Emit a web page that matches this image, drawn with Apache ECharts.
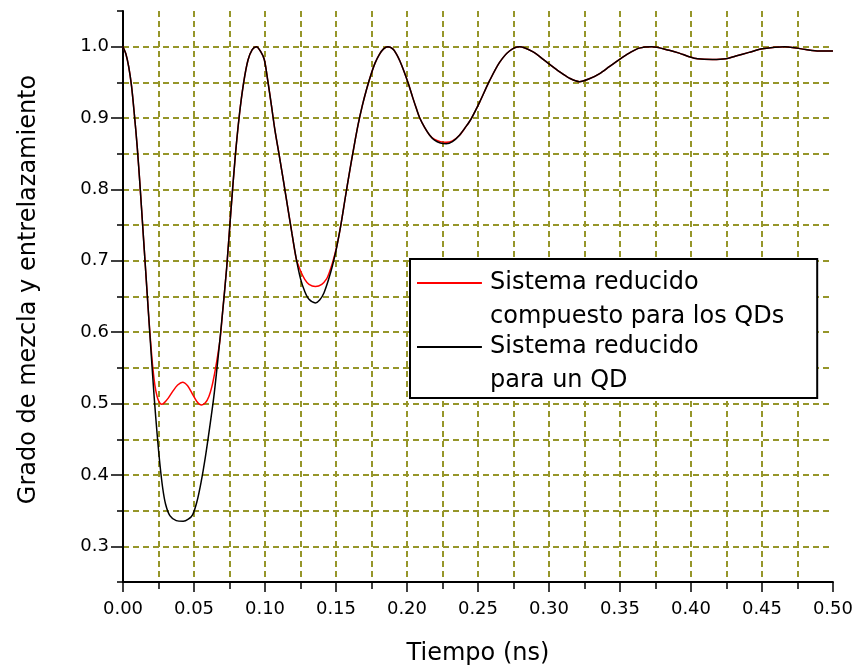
<!DOCTYPE html>
<html>
<head>
<meta charset="utf-8">
<script src="https://cdn.jsdelivr.net/npm/echarts@6/dist/echarts.min.js"></script>
<style>
html,body{margin:0;padding:0;background:#ffffff;}
#chart{width:856px;height:671px;}
</style>
</head>
<body>
<div id="chart"></div>
<script>
// ---- Data ----
const xAxisTitle = 'Tiempo (ns)';
const yAxisTitle = 'Grado de mezcla y entrelazamiento';
const seriesNames = ['Sistema reducido\ncompuesto para los QDs', 'Sistema reducido\npara un QD'];

// "Sistema reducido para un QD" (black)
const timeOneQD = [0, 0.002, 0.004, 0.006, 0.008, 0.010, 0.012, 0.014, 0.016, 0.018, 0.020, 0.022, 0.024, 0.026, 0.028, 0.030, 0.033, 0.0375, 0.0424, 0.046, 0.049, 0.052, 0.055, 0.058, 0.061, 0.064, 0.067, 0.070, 0.073, 0.076, 0.079, 0.082, 0.085, 0.088, 0.091, 0.094, 0.097, 0.0995, 0.102, 0.1045, 0.107, 0.110, 0.113, 0.116, 0.119, 0.122, 0.125, 0.128, 0.131, 0.1355, 0.1385, 0.1415, 0.1445, 0.1475, 0.1505, 0.1535, 0.1565, 0.1595, 0.1625, 0.1655, 0.1685, 0.1715, 0.1745, 0.1775, 0.1805, 0.1835, 0.1866, 0.190, 0.1925, 0.195, 0.198, 0.201, 0.204, 0.2065, 0.209, 0.2124, 0.216, 0.2194, 0.2235, 0.2276, 0.232, 0.237, 0.2415, 0.2452, 0.2511, 0.2581, 0.2652, 0.2722, 0.2792, 0.2885, 0.298, 0.3073, 0.3143, 0.3214, 0.3284, 0.3354, 0.3425, 0.3495, 0.3565, 0.3636, 0.3724, 0.3847, 0.3917, 0.3987, 0.4046, 0.4151, 0.4245, 0.4316, 0.4409, 0.4503, 0.4662, 0.4808, 0.4902, 0.5];
const gradeOneQD = [1.0, 0.99, 0.972, 0.945, 0.905, 0.86, 0.805, 0.745, 0.685, 0.625, 0.565, 0.508, 0.458, 0.415, 0.381, 0.359, 0.343, 0.336, 0.335, 0.338, 0.344, 0.362, 0.39, 0.425, 0.466, 0.51, 0.565, 0.625, 0.69, 0.77, 0.845, 0.905, 0.95, 0.981, 0.996, 1.0, 0.993, 0.982, 0.952, 0.918, 0.883, 0.848, 0.812, 0.775, 0.738, 0.703, 0.675, 0.657, 0.646, 0.641, 0.645, 0.655, 0.672, 0.693, 0.719, 0.751, 0.788, 0.824, 0.858, 0.89, 0.917, 0.94, 0.96, 0.977, 0.989, 0.997, 1.0, 0.997, 0.99, 0.98, 0.965, 0.948, 0.929, 0.914, 0.90, 0.887, 0.876, 0.869, 0.865, 0.864, 0.867, 0.876, 0.888, 0.899, 0.922, 0.952, 0.978, 0.994, 1.0, 0.993, 0.979, 0.965, 0.956, 0.951, 0.955, 0.962, 0.972, 0.982, 0.991, 0.998, 1.0, 0.995, 0.991, 0.986, 0.983, 0.982, 0.983, 0.987, 0.992, 0.997, 1.0, 0.996, 0.994, 0.994];

// "Sistema reducido compuesto para los QDs" (red)
const timeComposite = [0, 0.002, 0.004, 0.006, 0.008, 0.010, 0.012, 0.014, 0.016, 0.018, 0.0195, 0.021, 0.0225, 0.024, 0.0255, 0.0272, 0.029, 0.032, 0.035, 0.0385, 0.042, 0.0455, 0.049, 0.052, 0.0553, 0.058, 0.0605, 0.0625, 0.0645, 0.0665, 0.0685, 0.070, 0.073, 0.076, 0.079, 0.082, 0.085, 0.088, 0.091, 0.094, 0.097, 0.0995, 0.102, 0.1045, 0.107, 0.110, 0.113, 0.116, 0.119, 0.122, 0.125, 0.128, 0.131, 0.1355, 0.140, 0.1435, 0.145, 0.1475, 0.1505, 0.1535, 0.1565, 0.1595, 0.1625, 0.1655, 0.1685, 0.1715, 0.1745, 0.1775, 0.1805, 0.1835, 0.1866, 0.190, 0.1925, 0.195, 0.198, 0.201, 0.204, 0.2065, 0.209, 0.2124, 0.216, 0.2194, 0.2235, 0.2276, 0.232, 0.237, 0.2415, 0.2452, 0.2511, 0.2581, 0.2652, 0.2722, 0.2792, 0.2885, 0.298, 0.3073, 0.3143, 0.3214, 0.3284, 0.3354, 0.3425, 0.3495, 0.3565, 0.3636, 0.3724, 0.3847, 0.3917, 0.3987, 0.4046, 0.4151, 0.4245, 0.4316, 0.4409, 0.4503, 0.4662, 0.4808, 0.4902, 0.5];
const gradeComposite = [1.0, 0.99, 0.972, 0.945, 0.905, 0.86, 0.805, 0.745, 0.685, 0.625, 0.585, 0.55, 0.525, 0.51, 0.502, 0.499, 0.501, 0.508, 0.517, 0.526, 0.530, 0.525, 0.513, 0.503, 0.498, 0.501, 0.51, 0.523, 0.542, 0.565, 0.592, 0.625, 0.69, 0.77, 0.845, 0.905, 0.95, 0.981, 0.996, 1.0, 0.993, 0.982, 0.952, 0.918, 0.883, 0.848, 0.812, 0.775, 0.738, 0.703, 0.686, 0.674, 0.667, 0.664, 0.667, 0.675, 0.682, 0.697, 0.72, 0.751, 0.788, 0.824, 0.858, 0.89, 0.917, 0.94, 0.96, 0.977, 0.989, 0.997, 1.0, 0.997, 0.99, 0.98, 0.965, 0.948, 0.929, 0.914, 0.90, 0.887, 0.876, 0.870, 0.867, 0.866, 0.868, 0.876, 0.888, 0.899, 0.922, 0.952, 0.978, 0.994, 1.0, 0.993, 0.979, 0.965, 0.956, 0.951, 0.955, 0.962, 0.972, 0.982, 0.991, 0.998, 1.0, 0.995, 0.991, 0.986, 0.983, 0.982, 0.983, 0.987, 0.992, 0.997, 1.0, 0.996, 0.994, 0.994];

// Axis ranges / tick steps
const xRange = [0, 0.5];
const xStep = 0.05;
const yRange = [0.25, 1.05];
const yMinorStep = 0.05;

// ---- Chart ----
const pair = (xs, ys) => xs.map((x, i) => [x, ys[i]]);
const gridColor = '#96962a';
const font = 'DejaVu Sans';
const legendIcon = 'path://M0,16H65V18H0Z M0,0H0.1V0.1H0Z M68,68H68.1V68.1H68Z';

const chart = echarts.init(document.getElementById('chart'), null, {renderer: 'canvas'});
chart.setOption({
  backgroundColor: '#ffffff',
  animation: false,
  grid: {left: 123, right: 22, top: 11, bottom: 88, containLabel: false},
  legend: {
    orient: 'vertical',
    left: 410,
    top: 259,
    padding: [7, 33, 0, 7],
    itemGap: -4,
    itemWidth: 68,
    itemHeight: 68,
    backgroundColor: '#ffffff',
    borderColor: '#000000',
    borderWidth: 2,
    selectedMode: false,
    textStyle: {fontFamily: font, fontSize: 24, lineHeight: 34, color: '#000000'},
    data: [
      {name: seriesNames[0], icon: legendIcon, itemStyle: {color: '#ff0000', borderWidth: 0}},
      {name: seriesNames[1], icon: legendIcon, itemStyle: {color: '#000000', borderWidth: 0}}
    ]
  },
  xAxis: {
    type: 'value',
    min: xRange[0],
    max: xRange[1],
    interval: xStep,
    name: xAxisTitle,
    nameLocation: 'middle',
    nameGap: 60,
    nameTextStyle: {fontFamily: font, fontSize: 24, color: '#000000'},
    axisLine: {show: true, lineStyle: {color: '#000000', width: 2}},
    axisTick: {show: true, length: 10, lineStyle: {color: '#000000', width: 1.5}},
    minorTick: {show: true, splitNumber: 2, length: 7, lineStyle: {color: '#000000', width: 1.5}},
    axisLabel: {margin: 18, fontFamily: font, fontSize: 18, color: '#000000', formatter: v => v.toFixed(2)},
    splitLine: {show: true, showMinLine: false, showMaxLine: false, lineStyle: {color: gridColor, width: 2, type: [6, 4]}},
    minorSplitLine: {show: true, lineStyle: {color: gridColor, width: 2, type: [6, 4]}}
  },
  yAxis: [
    {
      type: 'value',
      position: 'left',
      min: yRange[0],
      max: yRange[1],
      interval: yMinorStep,
      name: yAxisTitle,
      nameLocation: 'middle',
      nameGap: 82,
      nameTextStyle: {fontFamily: font, fontSize: 24, color: '#000000', padding: [0, 0, 0, 14]},
      axisLine: {show: true, lineStyle: {color: '#000000', width: 2}},
      axisTick: {show: true, length: 6, lineStyle: {color: '#000000', width: 1.5}},
      axisLabel: {show: false},
      splitLine: {show: true, showMinLine: false, showMaxLine: false, lineStyle: {color: gridColor, width: 2, type: [6, 4]}}
    },
    {
      type: 'value',
      position: 'left',
      offset: 0,
      min: yRange[0],
      max: yRange[1],
      splitNumber: 8,
      axisLine: {show: false},
      axisTick: {show: true, length: 12, lineStyle: {color: '#000000', width: 1.5}},
      axisLabel: {show: true, showMinLabel: false, showMaxLabel: false, margin: 14, fontFamily: font, fontSize: 18, color: '#000000', formatter: v => v.toFixed(1)},
      splitLine: {show: false}
    }
  ],
  series: [
    {
      name: seriesNames[0],
      type: 'line',
      yAxisIndex: 0,
      data: pair(timeComposite, gradeComposite),
      showSymbol: false,
      symbol: 'none',
      smooth: 0.3,
      lineStyle: {color: '#ff0000', width: 1.5},
      itemStyle: {color: '#ff0000'},
      z: 3
    },
    {
      name: seriesNames[1],
      type: 'line',
      yAxisIndex: 0,
      data: pair(timeOneQD, gradeOneQD),
      showSymbol: false,
      symbol: 'none',
      smooth: 0.3,
      lineStyle: {color: '#000000', width: 1.5},
      itemStyle: {color: '#000000'},
      z: 4
    }
  ]
});
</script>
</body>
</html>
